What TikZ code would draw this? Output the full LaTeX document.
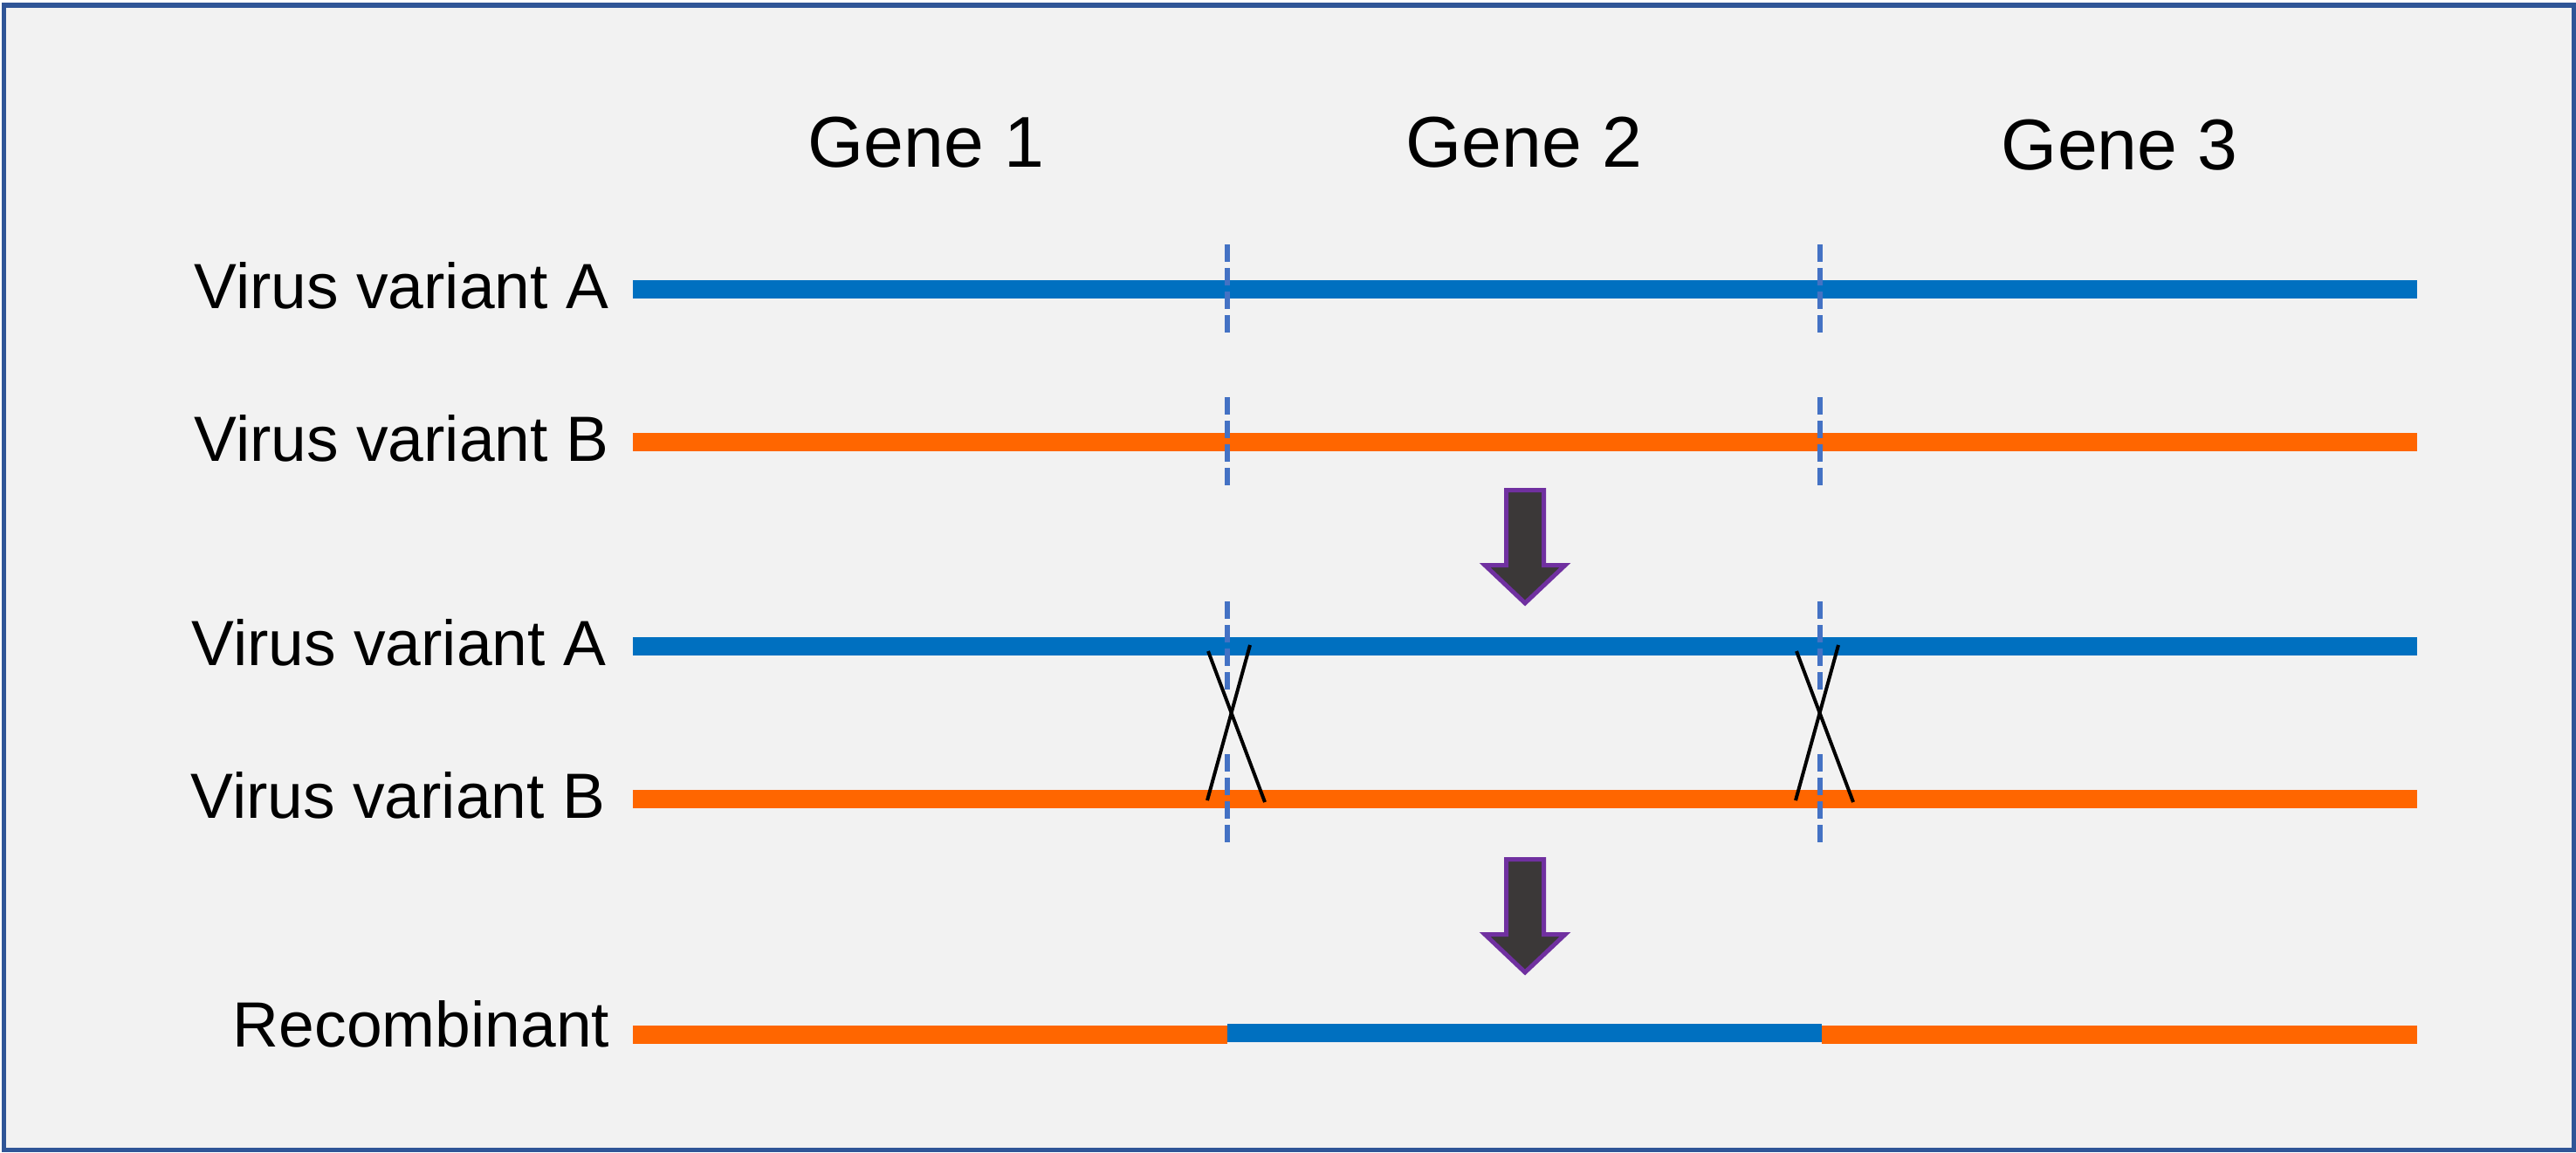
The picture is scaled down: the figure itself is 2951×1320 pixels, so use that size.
\documentclass[tikz,border=0pt]{standalone}
\usepackage{fontspec}
\setmainfont{Liberation Sans}
\definecolor{bgfill}{HTML}{F2F2F2}
\definecolor{frameblue}{HTML}{2F5597}
\definecolor{varA}{HTML}{0070C0}
\definecolor{varB}{HTML}{FF6600}
\definecolor{dashblue}{HTML}{4472C4}
\definecolor{arrowfill}{HTML}{3B3838}
\definecolor{arrowedge}{HTML}{7030A0}
\begin{document}
\begin{tikzpicture}[x=0.25pt,y=-0.25pt,
  genelabel/.style={font=\fontsize{20.6pt}{25pt}\selectfont,anchor=base,inner sep=0pt},
  rowlabel/.style={font=\fontsize{18.3pt}{22pt}\selectfont,anchor=base east,inner sep=0pt},
  strandA/.style={draw=varA,line width=5.25pt,line cap=butt},
  strandB/.style={draw=varB,line width=5.25pt,line cap=butt},
  cutline/.style={draw=dashblue,line width=1.5pt,dash pattern=on 5pt off 1.75pt},
  crossline/.style={draw=black,line width=1pt},
  downarrow/.style={fill=arrowfill,draw=arrowedge,line width=1.25pt,line join=miter}]
\useasboundingbox (0,0) rectangle (2951,1320);
\fill[white] (0,0) rectangle (2951,1320);
\draw[fill=bgfill,draw=frameblue,line width=1.4pt] (4.5,6) rectangle (2948.5,1317.5);

% labels
\node[genelabel] (g1) at (1061,191) {Gene 1};
\node[genelabel] (g2) at (1746,191) {Gene 2};
\node[genelabel] (g3) at (2428,194) {Gene 3};
\node[rowlabel] (la1) at (698,353) {Virus variant A};
\node[rowlabel] (lb1) at (698,528) {Virus variant B};
\node[rowlabel] (la2) at (695,762) {Virus variant A};
\node[rowlabel] (lb2) at (694,937) {Virus variant B};
\node[rowlabel] (lr) at (699,1199) {Recombinant};

% strand endpoints
\coordinate (a1s) at (725,331);  \coordinate (a1e) at (2769,331);
\coordinate (b1s) at (725,506);  \coordinate (b1e) at (2769,506);
\coordinate (a2s) at (725,740);  \coordinate (a2e) at (2769,740);
\coordinate (b2s) at (725,915);  \coordinate (b2e) at (2769,915);
\coordinate (r1) at (725,1185);  \coordinate (r2) at (1406,1185);
\coordinate (r3) at (1406,1183.5); \coordinate (r4) at (2087,1183.5);
\coordinate (r5) at (2087,1185); \coordinate (r6) at (2769,1185);

\draw[strandA] (a1s) -- (a1e);
\draw[strandB] (b1s) -- (b1e);
\draw[strandA] (a2s) -- (a2e);
\draw[strandB] (b2s) -- (b2e);
\draw[strandB] (r1) -- (r2);
\draw[strandA] (r3) -- (r4);
\draw[strandB] (r5) -- (r6);

% dashed cut marks
\foreach \yy in {331,506,740,915}{
  \draw[cutline] (1406,\yy-51) -- (1406,\yy+52);
  \draw[cutline] (2085,\yy-51) -- (2085,\yy+52);
}

% crossovers
\draw[crossline] (1384,746) -- (1449,919);
\draw[crossline] (1432,739) -- (1383,917);
\draw[crossline] (2058,746) -- (2123,919);
\draw[crossline] (2106,739) -- (2057,917);

% arrows
\foreach \dy in {0,423}{
  \draw[downarrow] (1725.5,561.5+\dy) -- (1768.5,561.5+\dy) -- (1768.5,647.5+\dy)
    -- (1793,647.5+\dy) -- (1747,691+\dy) -- (1701,647.5+\dy) -- (1725.5,647.5+\dy) -- cycle;
}
\end{tikzpicture}
\end{document}
